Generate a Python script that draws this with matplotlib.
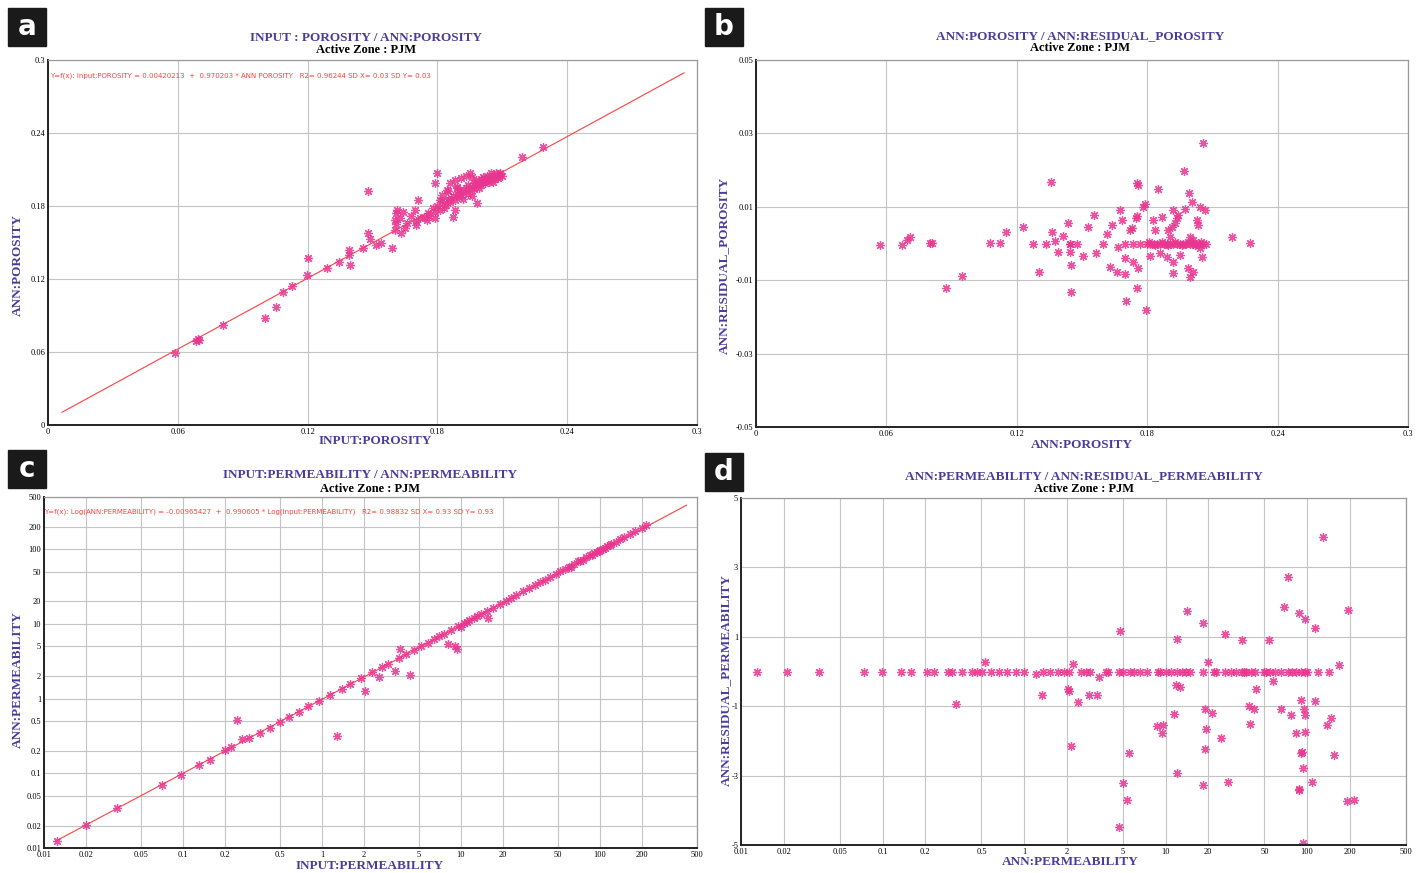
import math
import matplotlib
matplotlib.use("Agg")
import matplotlib.pyplot as plt
from matplotlib.patches import Rectangle
from matplotlib.ticker import FixedLocator, NullLocator

# ----------------------------
# Data
# ----------------------------
# a) INPUT:POROSITY vs ANN:POROSITY
a_x = [0.0587, 0.0685, 0.0695, 0.0700, 0.0810, 0.1003, 0.1054, 0.1086, 0.1128, 0.1197,
       0.1203, 0.1288, 0.1346, 0.1393, 0.1396, 0.1390, 0.1455, 0.1478, 0.1480, 0.1488,
       0.1514, 0.1540, 0.1589, 0.1612, 0.1604, 0.1604, 0.1627, 0.1610, 0.1696, 0.1711,
       0.1703, 0.1750, 0.1757, 0.1789, 0.1797, 0.1789, 0.1843, 0.1873, 0.1881, 0.1812,
       0.1858, 0.1889, 0.1982, 0.2058, 0.2089, 0.2189, 0.2288,
       0.180, 0.182, 0.183, 0.184, 0.185, 0.186, 0.187, 0.188, 0.189, 0.190,
       0.190, 0.191, 0.192, 0.192, 0.193, 0.194, 0.194, 0.195, 0.196, 0.196,
       0.197, 0.197, 0.198, 0.198, 0.199, 0.199, 0.200, 0.200, 0.201, 0.201,
       0.202, 0.202, 0.203, 0.203, 0.204, 0.204, 0.205, 0.205, 0.206, 0.206,
       0.207, 0.207, 0.208, 0.208, 0.209, 0.210, 0.186, 0.188, 0.191, 0.193,
       0.195, 0.196, 0.189, 0.185, 0.182, 0.179, 0.181, 0.176, 0.178, 0.174,
       0.172, 0.170, 0.168, 0.166, 0.164, 0.165, 0.161, 0.163]
a_y = [0.0592, 0.0690, 0.0710, 0.0700, 0.0820, 0.0880, 0.0970, 0.1090, 0.1140, 0.1230,
       0.1370, 0.1290, 0.1340, 0.1438, 0.1315, 0.1400, 0.1457, 0.1926, 0.1580, 0.1532,
       0.1480, 0.1500, 0.1452, 0.1767, 0.1685, 0.1603, 0.1699, 0.1740, 0.1767, 0.1849,
       0.1644, 0.1685, 0.1740, 0.1699, 0.2069, 0.1987, 0.1932, 0.1712, 0.1767, 0.1849,
       0.1849, 0.1959, 0.1822, 0.2000, 0.2069, 0.2205, 0.2285,
       0.180, 0.184, 0.178, 0.181, 0.186, 0.183, 0.188, 0.185, 0.190, 0.187,
       0.193, 0.189, 0.186, 0.192, 0.195, 0.190, 0.197, 0.193, 0.188, 0.196,
       0.199, 0.194, 0.197, 0.201, 0.195, 0.199, 0.202, 0.197, 0.200, 0.204,
       0.199, 0.202, 0.205, 0.201, 0.203, 0.200, 0.204, 0.207, 0.202, 0.205,
       0.204, 0.207, 0.205, 0.203, 0.206, 0.205, 0.199, 0.201, 0.203, 0.205,
       0.207, 0.204, 0.195, 0.192, 0.189, 0.175, 0.177, 0.172, 0.178, 0.171,
       0.170, 0.168, 0.172, 0.166, 0.175, 0.162, 0.165, 0.158]
a_fit = (0.00420213, 0.970203)
a_fit_range = (0.0065, 0.294)
a_eq = ("Y=f(x): Input:POROSITY = 0.00420213  +  0.970203 * ANN POROSITY   "
        "R2= 0.96244 SD X= 0.03 SD Y= 0.03")

# b) ANN:POROSITY vs ANN:RESIDUAL_POROSITY
b_x = [0.0571, 0.0672, 0.0695, 0.0709, 0.0801, 0.0810, 0.0874, 0.0948, 0.1077, 0.1123,
       0.1150, 0.1227, 0.1276, 0.1334, 0.1357, 0.1361, 0.1376, 0.1388, 0.1411, 0.1437,
       0.1445, 0.1445, 0.1448, 0.1449, 0.1478, 0.1503, 0.1526, 0.1555, 0.1564, 0.1595,
       0.1616, 0.1629, 0.1637, 0.1662, 0.1667, 0.1675, 0.1683, 0.1698, 0.1698, 0.1698,
       0.1702, 0.1721, 0.1729, 0.1736, 0.1736, 0.1748, 0.1752, 0.1754, 0.1754, 0.1759,
       0.1759, 0.1767, 0.1782, 0.1790, 0.1794, 0.1813, 0.1828, 0.1836, 0.1851, 0.1859,
       0.1867, 0.1890, 0.1897, 0.1905, 0.1913, 0.1920, 0.1920, 0.1920, 0.1928, 0.1936,
       0.1943, 0.1951, 0.1969, 0.1974, 0.1989, 0.1994, 0.1997, 0.1997, 0.2005, 0.2012,
       0.2012, 0.2028, 0.2035, 0.2043, 0.2043, 0.2051, 0.2058, 0.2066, 0.2192, 0.2273,
       0.1300, 0.1445,
       0.1800, 0.1815, 0.1830, 0.1845, 0.1860, 0.1875, 0.1890, 0.1905, 0.1920, 0.1935,
       0.1950, 0.1965, 0.1980, 0.1995, 0.2010, 0.2025, 0.2040, 0.2055, 0.2070,
       0.1808, 0.1838, 0.1868, 0.1898, 0.1928, 0.1958, 0.1988, 0.2018, 0.2048]
b_y = [-0.0004, -0.0004, 0.0010, 0.0018, 0.0001, 0.0001, -0.0121, -0.0089, 0.0001, 0.0001,
       0.0031, 0.0044, 0.0000, 0.0000, 0.0168, 0.0032, 0.0007, -0.0022, 0.0020, 0.0057,
       0.0000, -0.0022, -0.0131, -0.0059, 0.0000, -0.0034, 0.0046, 0.0078, -0.0025, 0.0000,
       0.0026, -0.0063, 0.0050, -0.0077, -0.0009, 0.0091, 0.0064, 0.0000, -0.0040, -0.0083,
       -0.0157, 0.0037, 0.0041, 0.0000, -0.0050, 0.0069, 0.0164, 0.0075, -0.0122, 0.0159,
       -0.0068, 0.0000, 0.0100, 0.0108, -0.0181, -0.0034, 0.0064, 0.0037, 0.0148, -0.0027,
       0.0071, -0.0036, 0.0037, 0.0019, 0.0046, 0.0091, -0.0050, -0.0081, 0.0055, 0.0069,
       0.0078, -0.0031, 0.0197, 0.0093, -0.0068, 0.0138, 0.0019, -0.0090, 0.0114, 0.0010,
       -0.0077, 0.0064, 0.0050, 0.0100, -0.0013, -0.0036, 0.0273, 0.0091, 0.0017, 0.0001,
       -0.0079, 0.0000,
       0.0000, 0.0000, 0.0000, 0.0000, 0.0000, 0.0000, 0.0000, 0.0000, 0.0000, 0.0000,
       0.0000, 0.0000, 0.0000, 0.0000, 0.0000, 0.0000, 0.0000, 0.0000, 0.0000,
       0.0005, -0.0005, 0.0005, -0.0005, 0.0005, -0.0005, 0.0005, -0.0005, 0.0005]

# c) INPUT:PERMEABILITY vs ANN:PERMEABILITY (log-log)
c_x = [0.0124, 0.0199, 0.0335, 0.0706, 0.097, 0.130, 0.156, 0.200, 0.222, 0.265,
       0.30, 0.36, 0.42, 0.50, 0.58, 0.68, 0.80, 0.95, 1.15, 1.40,
       1.60, 1.90, 2.30, 2.70, 3.00, 3.60, 4.00, 4.60, 5.20, 5.80,
       6.40, 7.00, 7.60, 8.50, 9.60, 10.5, 11.5, 12.5, 14.0, 15.5,
       17.0, 19.0, 21.0, 23.0, 25.0, 28.0, 31.0, 34.0, 37.0, 40.0,
       44.0, 48.0, 52.0, 56.0, 60.0, 65.0, 70.0, 75.0, 80.0, 85.0,
       90.0, 95.0, 100, 105, 112, 120, 130, 140, 150, 165,
       180, 200, 215, 62.0, 72.0, 88.0, 98.0, 108, 118, 10.0,
       11.0, 13.0, 0.245, 1.28, 2.04, 2.56, 3.34, 4.33, 3.64, 8.1,
       9.3, 9.0, 15.6]
c_y = [0.0125, 0.0203, 0.0338, 0.0707, 0.094, 0.128, 0.152, 0.203, 0.224, 0.289,
       0.30, 0.35, 0.41, 0.49, 0.57, 0.66, 0.79, 0.93, 1.12, 1.36,
       1.57, 1.86, 2.24, 2.64, 2.95, 3.50, 3.95, 4.50, 5.10, 5.60,
       6.30, 6.80, 7.40, 8.30, 9.30, 10.2, 11.3, 12.1, 13.6, 15.1,
       16.5, 18.6, 20.3, 22.5, 24.2, 27.3, 30.0, 33.2, 36.0, 38.8,
       43.0, 46.5, 50.8, 54.5, 58.6, 63.0, 68.5, 72.8, 78.0, 82.5,
       88.0, 92.0, 97.5, 102, 109, 117, 126, 136, 146, 160,
       175, 195, 210, 58.0, 70.0, 84.0, 96.0, 103, 115, 9.2,
       10.6, 12.9, 0.52, 0.32, 1.27, 1.92, 2.36, 2.06, 4.60, 5.40,
       4.60, 5.0, 12.1]
c_fit = (-0.00965427, 0.990605)
c_fit_range = (0.012, 420.0)
c_eq = ("Y=f(x): Log(ANN:PERMEABILITY) = -0.00965427  +  0.990605 * Log(input:PERMEABILITY)   "
        "R2= 0.98832 SD X= 0.93 SD Y= 0.93")

# d) ANN:PERMEABILITY vs ANN:RESIDUAL_PERMEABILITY
d_row_x = [0.0130, 0.0213, 0.0357, 0.0743, 0.099, 0.135, 0.160, 0.206, 0.231, 0.289,
           0.310, 0.362, 0.427, 0.468, 0.508, 0.585, 0.664, 0.763, 0.875, 1.007,
           1.363, 1.514, 1.743, 1.91, 2.08, 2.53, 2.75, 2.91, 3.78, 3.92,
           4.68, 5.02, 5.57, 5.97, 6.65, 7.39, 8.81, 9.13, 10.14, 10.9,
           12.1, 13.0, 13.9, 14.9, 18.5, 22.0, 22.8, 26.2, 29.1, 31.3,
           34.8, 36.0, 37.3, 40.0, 42.9, 49.4, 51.2, 55.0, 59.0, 65.6,
           72.9, 78.2, 83.9, 90.0, 96.5, 100, 119, 142]
d_row_y = [0.0] * len(d_row_x)
d_x = [130, 72.9, 68.4, 195, 14.2, 87.0, 96.5, 18.3, 113, 4.75,
       26.2, 12.1, 34.8, 53.8, 0.53, 19.8, 2.2, 167, 3.36, 57.0,
       1.22, 11.9, 12.7, 43.5, 2.04, 2.08, 1.33, 2.86, 3.28, 2.42,
       0.333, 91.0, 114, 38.6, 42.4, 19.0, 21.3, 65.6, 95.0, 96.5,
       77.6, 11.5, 147, 139, 8.7, 9.6, 9.4, 39.6, 19.4, 83.6,
       96.5, 24.6, 2.13, 18.9, 90.0, 92.0, 5.5, 155, 93.0, 12.1,
       108, 27.7, 5.02, 18.3, 88.0, 87.0, 5.3, 192, 216, 4.7,
       93.0]
d_y = [3.87, 2.71, 1.87, 1.77, 1.75, 1.68, 1.50, 1.41, 1.245, 1.18,
       1.08, 0.94, 0.92, 0.92, 0.265, 0.28, 0.216, 0.19, -0.167, -0.265,
       -0.07, -0.39, -0.44, -0.50, -0.51, -0.57, -0.68, -0.68, -0.68, -0.89,
       -0.94, -0.82, -0.85, -0.99, -1.09, -1.09, -1.19, -1.09, -1.09, -1.25,
       -1.24, -1.22, -1.33, -1.54, -1.58, -1.54, -1.78, -1.51, -1.66, -1.76,
       -1.73, -1.93, -2.15, -2.24, -2.36, -2.31, -2.36, -2.41, -2.79, -2.92,
       -3.18, -3.19, -3.21, -3.28, -3.38, -3.41, -3.70, -3.72, -3.69, -4.47,
       -4.95]

# Tick values / labels
por_ticks = [0, 0.06, 0.12, 0.18, 0.24, 0.3]
por_labels = ["0", "0.06", "0.12", "0.18", "0.24", "0.3"]
res_ticks = [-0.05, -0.03, -0.01, 0.01, 0.03, 0.05]
res_labels = ["-0.05", "-0.03", "-0.01", "0.01", "0.03", "0.05"]
perm_ticks = [0.01, 0.02, 0.05, 0.1, 0.2, 0.5, 1, 2, 5, 10, 20, 50, 100, 200, 500]
perm_labels = ["0.01", "0.02", "0.05", "0.1", "0.2", "0.5", "1", "2", "5",
               "10", "20", "50", "100", "200", "500"]
resp_ticks = [-5, -3, -1, 1, 3, 5]
resp_labels = ["-5", "-3", "-1", "1", "3", "5"]

# ----------------------------
# Styles
# ----------------------------
W, H = 1416, 873
PINK = "#e8358f"
FIT = "#ff4040"
PURPLE = "#4b3c9c"
GRID = "#c4c4c4"
SERIF = "Liberation Serif"


def fx(px):
    return px / W


def fy(py):
    return 1 - py / H


def style_axes(ax):
    ax.set_facecolor("white")
    for s in ("top", "right"):
        ax.spines[s].set_color("#9a9a9a")
        ax.spines[s].set_linewidth(0.9)
    for s in ("left", "bottom"):
        ax.spines[s].set_color("#222222")
        ax.spines[s].set_linewidth(1.4)
    ax.tick_params(length=0, pad=2, labelsize=6)
    for lab in ax.get_xticklabels() + ax.get_yticklabels():
        lab.set_fontfamily(SERIF)
    ax.grid(True, color=GRID, linewidth=0.8)
    ax.set_axisbelow(True)


def scatter(ax, x, y):
    ax.plot(x, y, linestyle="none", marker=(8, 2, 0), markersize=6.5,
            markeredgewidth=0.9, color=PINK, alpha=0.85)


fig = plt.figure(figsize=(W / 100, H / 100), dpi=100)

# ---- a ----
ax = fig.add_axes([fx(48), fy(425), (697 - 48) / W, (425 - 60) / H])
lx = list(a_fit_range)
ax.plot(lx, [a_fit[0] + a_fit[1] * v for v in lx], color=FIT, linewidth=0.8)
scatter(ax, a_x, a_y)
ax.set_xlim(0, 0.3)
ax.set_ylim(0, 0.3)
ax.set_xticks(por_ticks, por_labels)
ax.set_yticks(por_ticks, por_labels)
style_axes(ax)
ax.text(0.003, 0.957, a_eq, transform=ax.transAxes, color=FIT, fontsize=5, va="center")

# ---- b ----
ax = fig.add_axes([fx(756), fy(427), (1408 - 756) / W, (427 - 60) / H])
scatter(ax, b_x, b_y)
ax.set_xlim(0, 0.3)
ax.set_ylim(-0.05, 0.05)
ax.set_xticks(por_ticks, por_labels)
ax.set_yticks(res_ticks, res_labels)
style_axes(ax)

# ---- c ----
ax = fig.add_axes([fx(44), fy(848), (697 - 44) / W, (848 - 497) / H])
lx = list(c_fit_range)
ax.plot(lx, [10 ** (c_fit[0] + c_fit[1] * math.log10(v)) for v in lx],
        color=FIT, linewidth=0.8)
scatter(ax, c_x, c_y)
ax.set_xscale("log")
ax.set_yscale("log")
ax.set_xlim(0.01, 500)
ax.set_ylim(0.01, 500)
ax.xaxis.set_major_locator(FixedLocator(perm_ticks))
ax.yaxis.set_major_locator(FixedLocator(perm_ticks))
ax.set_xticklabels(perm_labels)
ax.set_yticklabels(perm_labels)
ax.xaxis.set_minor_locator(NullLocator())
ax.yaxis.set_minor_locator(NullLocator())
style_axes(ax)
ax.text(0.0, 0.957, c_eq, transform=ax.transAxes, color=FIT, fontsize=5, va="center")

# ---- d ----
ax = fig.add_axes([fx(741), fy(845), (1406 - 741) / W, (845 - 498) / H])
scatter(ax, d_row_x, d_row_y)
scatter(ax, d_x, d_y)
ax.set_xscale("log")
ax.set_xlim(0.01, 500)
ax.set_ylim(-5, 5)
ax.xaxis.set_major_locator(FixedLocator(perm_ticks))
ax.set_xticklabels(perm_labels)
ax.xaxis.set_minor_locator(NullLocator())
ax.set_yticks(resp_ticks, resp_labels)
style_axes(ax)

# ----------------------------
# Titles, axis labels, panel letters
# ----------------------------
titles = [
    (366, 38, 50, "INPUT : POROSITY / ANN:POROSITY"),
    (1080, 36, 48, "ANN:POROSITY / ANN:RESIDUAL_POROSITY"),
    (370, 475, 489, "INPUT:PERMEABILITY / ANN:PERMEABILITY"),
    (1084, 476, 489, "ANN:PERMEABILITY / ANN:RESIDUAL_PERMEABILITY"),
]
for cx, y1, y2, t in titles:
    fig.text(fx(cx), fy(y1), t, ha="center", va="center", color=PURPLE,
             fontsize=9.5, fontweight="bold", family=SERIF)
    fig.text(fx(cx), fy(y2), "Active Zone : PJM", ha="center", va="center",
             color="black", fontsize=9, fontweight="bold", family=SERIF)

xlabels = [(375, 441, "INPUT:POROSITY"), (1082, 445, "ANN:POROSITY"),
           (370, 866, "INPUT:PERMEABILITY"), (1070, 862, "ANN:PERMEABILITY")]
for cx, cy, t in xlabels:
    fig.text(fx(cx), fy(cy), t, ha="center", va="center", color=PURPLE,
             fontsize=9.5, fontweight="bold", family=SERIF)

ylabels = [(18, 265, "ANN:POROSITY"), (724, 265, "ANN:RESIDUAL_POROSITY"),
           (18, 680, "ANN:PERMEABILITY"), (726, 680, "ANN:RESIDUAL_PERMEABILITY")]
for cx, cy, t in ylabels:
    fig.text(fx(cx), fy(cy), t, ha="center", va="center", rotation=90,
             color=PURPLE, fontsize=9.5, fontweight="bold", family=SERIF)

letters = [(8, 8, "a"), (705, 8, "b"), (8, 450, "c"), (705, 453, "d")]
for px, py, t in letters:
    fig.add_artist(Rectangle((fx(px), fy(py + 38)), 38 / W, 38 / H,
                             transform=fig.transFigure, color="#1a1a1a"))
    fig.text(fx(px + 19), fy(py + 19), t, ha="center", va="center",
             color="white", fontsize=20, fontweight="bold")

fig.savefig("out.png", dpi=100)
